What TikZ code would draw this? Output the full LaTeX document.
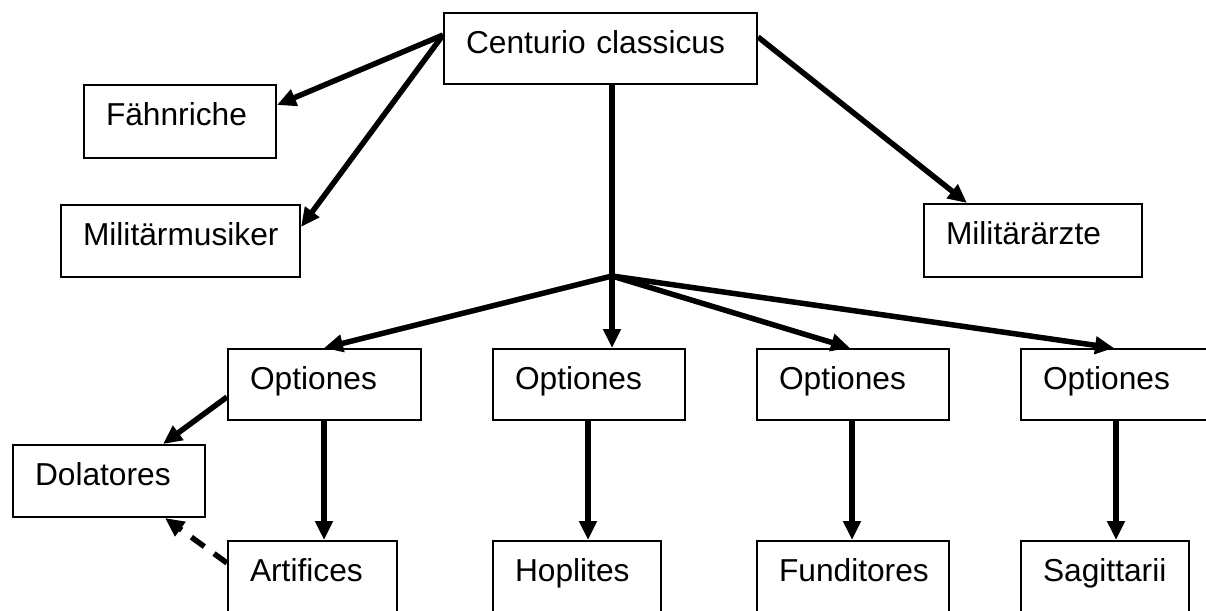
\documentclass[tikz,border=0pt]{standalone}
\usepackage{fontspec}
\setmainfont{Liberation Sans}
\usetikzlibrary{arrows.meta}
\tikzset{
  bx/.style 2 args={draw=black, line width=2pt, anchor=north west,
    inner xsep=22pt, inner ysep=0pt, text width=#1, align=left,
    text height=40pt, text depth=#2,
    font=\fontsize{31.7pt}{38pt}\selectfont},
  conn/.style={line width=5.5pt, -{Triangle[length=19pt,width=17pt]}},
  plain/.style={line width=5.5pt},
  dconn/.style={conn, dash pattern=on 16pt off 12pt}
}
\begin{document}
\begin{tikzpicture}[x=1pt,y=-1pt]
\useasboundingbox (0,0) rectangle (1206,610);
% boxes: text width = W-44, text depth = H-40
\node[bx={269pt}{31pt}] (cc) at (443,12) {Centurio classicus};
\node[bx={148pt}{33pt}] (fa) at (83,84) {Fähnriche};
\node[bx={195pt}{32pt}] (mm) at (60,204) {Militärmusiker};
\node[bx={174pt}{33pt}] (ma) at (923,203) {Militärärzte};
\node[bx={148pt}{32pt}] (do) at (12,444) {Dolatores};
\node[bx={149pt}{31pt}] (o1) at (227,348) {Optiones};
\node[bx={148pt}{31pt}] (o2) at (492,348) {Optiones};
\node[bx={148pt}{31pt}] (o3) at (756,348) {Optiones};
\node[bx={149pt}{31pt}] (o4) at (1020,348) {Optiones};
\node[bx={125pt}{35pt}] (ar) at (227,540) {Artifices};
\node[bx={124pt}{35pt}] (ho) at (492,540) {Hoplites};
\node[bx={148pt}{35pt}] (fu) at (756,540) {Funditores};
\node[bx={124pt}{35pt}] (sa) at (1020,540) {Sagittarii};
\coordinate (hub) at (612,276);
% connectors
\draw[conn] ([yshift=-23pt]cc.north west) -- ([yshift=-21pt]fa.north east);
\draw[conn] ([yshift=-23pt]cc.north west) -- ([yshift=-23pt]mm.north east);
\draw[conn] ([yshift=-25pt]cc.north east) -- ([xshift=44pt]ma.north west);
\draw[plain] ([xshift=169pt]cc.south west) -- (hub);
\draw[conn] (hub) -- ([xshift=97pt]o1.north west);
\draw[conn] (hub) -- ([xshift=120pt]o2.north west);
\draw[conn] (hub) -- ([xshift=94pt]o3.north west);
\draw[conn] (hub) -- ([xshift=94pt]o4.north west);
\draw[conn] ([xshift=97pt]o1.south west) -- ([xshift=97pt]ar.north west);
\draw[conn] ([xshift=96pt]o2.south west) -- ([xshift=96pt]ho.north west);
\draw[conn] ([xshift=96pt]o3.south west) -- ([xshift=96pt]fu.north west);
\draw[conn] ([xshift=96pt]o4.south west) -- ([xshift=96pt]sa.north west);
\draw[conn] ([yshift=-49pt]o1.north west) -- ([xshift=151pt]do.north west);
\draw[dconn] ([yshift=-23pt]ar.north west) -- ([xshift=153pt]do.south west);
\end{tikzpicture}
\end{document}
